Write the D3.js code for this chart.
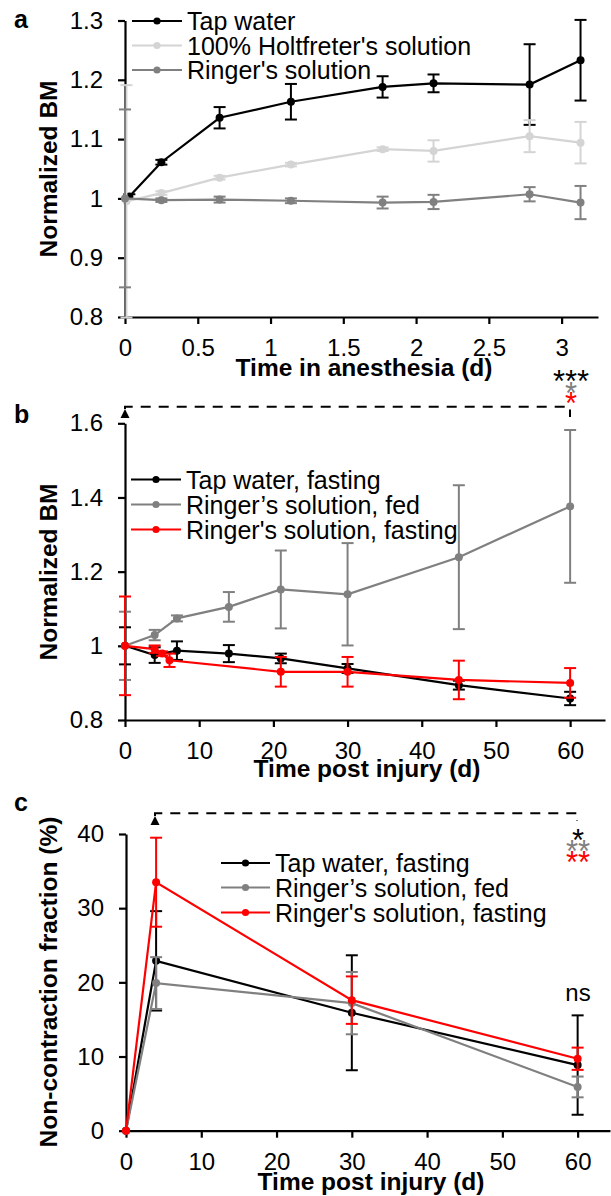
<!DOCTYPE html>
<html><head><meta charset="utf-8">
<script src="https://cdn.jsdelivr.net/npm/d3@7"></script>
<style>body{margin:0;background:#fff} svg{display:block} text{font-family:"Liberation Sans",Arial,Helvetica,sans-serif}</style>
</head><body><svg id="c" width="611" height="1196"></svg>
<script>
// ---------- Panel a data ----------
const aTapTime = [0.03, 0.25, 0.65, 1.14, 1.77, 2.12, 2.78, 3.13];
const aTap     = [1.003, 1.061, 1.136, 1.163, 1.188, 1.194, 1.192, 1.233];
const aTapErr  = [0.004, 0.004, 0.018, 0.030, 0.018, 0.015, 0.068, 0.068];
const aHoltTime = [0.01, 0.25, 0.65, 1.14, 1.77, 2.12, 2.78, 3.13];
const aHolt     = [0.995, 1.009, 1.035, 1.057, 1.083, 1.080, 1.105, 1.094];
const aHoltErr  = [0.196, 0.003, 0.003, 0.003, 0.003, 0.018, 0.027, 0.035];
const aRingTime = [0.0, 0.25, 0.65, 1.14, 1.77, 2.12, 2.78, 3.13];
const aRing     = [1.0, 0.997, 0.998, 0.996, 0.993, 0.994, 1.007, 0.993];
const aRingErr  = [0.15, 0.003, 0.005, 0.004, 0.010, 0.012, 0.012, 0.028];
const aXTicks = [0, 0.5, 1, 1.5, 2, 2.5, 3];
const aXLabels = ["0", "0.5", "1", "1.5", "2", "2.5", "3"];
const aYTicks = [0.8, 0.9, 1.0, 1.1, 1.2, 1.3];
const aYLabels = ["0.8", "0.9", "1", "1.1", "1.2", "1.3"];
const aLegend = ["Tap water", "100% Holtfreter's solution", "Ringer's solution"];

// ---------- Panel b data ----------
const bTapTime = [0, 4, 7, 14, 21, 30, 45, 60];
const bTap     = [1.0, 0.975, 0.987, 0.979, 0.966, 0.939, 0.894, 0.858];
const bTapErr  = [0.05, 0.021, 0.025, 0.023, 0.013, 0.012, 0.012, 0.018];
const bFedTime = [0, 4, 7, 14, 21, 30, 45, 60];
const bFed     = [1.0, 1.029, 1.074, 1.105, 1.152, 1.139, 1.239, 1.376];
const bFedErr  = [0.092, 0.014, 0.008, 0.04, 0.105, 0.138, 0.194, 0.206];
const bFastTime = [0, 4, 5, 6, 21, 30, 45, 60];
const bFast     = [1.0, 0.991, 0.979, 0.961, 0.930, 0.930, 0.908, 0.900];
const bFastErr  = [0.133, 0.01, 0.006, 0.018, 0.04, 0.04, 0.052, 0.04];
const bXTicks = [0, 10, 20, 30, 40, 50, 60];
const bXLabels = ["0", "10", "20", "30", "40", "50", "60"];
const bYTicks = [0.8, 1.0, 1.2, 1.4, 1.6];
const bYLabels = ["0.8", "1", "1.2", "1.4", "1.6"];
const bLegend = ["Tap water, fasting", "Ringer\u2019s solution, fed", "Ringer's solution, fasting"];

// ---------- Panel c data ----------
const cTime = [0, 4, 30, 60];
const cTap     = [0, 22.9, 15.9, 8.85];
const cTapErr  = [0, 6.7, 7.75, 6.7];
const cFed     = [0, 19.9, 17.2, 5.9];
const cFedErr  = [0, 3.5, 4.2, 1.4];
const cFast    = [0, 33.5, 17.6, 9.7];
const cFastErr = [0, 6.0, 3.2, 1.5];
const cXTicks = [0, 10, 20, 30, 40, 50, 60];
const cXLabels = ["0", "10", "20", "30", "40", "50", "60"];
const cYTicks = [0, 10, 20, 30, 40];
const cYLabels = ["0", "10", "20", "30", "40"];
const cLegend = ["Tap water, fasting", "Ringer\u2019s solution, fed", "Ringer's solution, fasting"];

const BLACK = "#000000", LIGHT = "#d4d4d4", GRAY = "#808080", RED = "#ff0000";
const svg = d3.select("#c");

function zip(t, v, e) { return t.map((d, i) => ({ x: d, y: v[i], e: e[i] })); }

function panel(cfg) {
  const g = svg.append("g");
  const x = d3.scaleLinear().domain(cfg.xDomain).range(cfg.xRange);
  const y = d3.scaleLinear().domain(cfg.yDomain).range(cfg.yRange);

  const xa = g.append("g").attr("transform", `translate(0,${cfg.yRange[0]})`)
    .call(d3.axisBottom(x).tickValues(cfg.xTicks).tickFormat((d, i) => cfg.xLabels[i])
      .tickSize(7).tickPadding(15).tickSizeOuter(0));
  const ya = g.append("g").attr("transform", `translate(${cfg.xRange[0]},0)`)
    .call(d3.axisLeft(y).tickValues(cfg.yTicks).tickFormat((d, i) => cfg.yLabels[i])
      .tickSize(7).tickPadding(15).tickSizeOuter(0));
  [xa, ya].forEach(a => {
    a.select(".domain").attr("stroke", "#000").attr("stroke-width", 2.2);
    a.selectAll(".tick line").attr("stroke", "#000").attr("stroke-width", 2.2);
    a.selectAll(".tick text").attr("font-size", 24).attr("fill", "#000")
      .attr("font-family", '"Liberation Sans",Arial,sans-serif');
  });

  g.append("text").attr("x", cfg.xTitlePos[0]).attr("y", cfg.xTitlePos[1])
    .attr("text-anchor", "middle").attr("font-weight", "bold").attr("font-size", 24.5)
    .text(cfg.xTitle);
  g.append("text").attr("transform", `translate(${cfg.yTitlePos[0]},${cfg.yTitlePos[1]}) rotate(-90)`)
    .attr("text-anchor", "middle").attr("font-weight", "bold").attr("font-size", 24.5)
    .text(cfg.yTitle);
  g.append("text").attr("x", 14).attr("y", cfg.letterY).attr("font-weight", "bold")
    .attr("font-size", 25).text(cfg.letter);

  const line = d3.line().x(d => x(d.x)).y(d => y(d.y));
  cfg.series.forEach(s => {
    const sg = g.append("g");
    sg.append("path").datum(s.data).attr("d", line).attr("fill", "none")
      .attr("stroke", s.color).attr("stroke-width", 2.2);
    const eb = sg.selectAll(".eb").data(s.data.filter(d => d.e > 0)).enter().append("g");
    eb.append("line").attr("x1", d => x(d.x)).attr("x2", d => x(d.x))
      .attr("y1", d => y(d.y - d.e)).attr("y2", d => y(d.y + d.e))
      .attr("stroke", s.color).attr("stroke-width", 2);
    [1, -1].forEach(sgn => {
      eb.append("line").attr("x1", d => x(d.x) - 6).attr("x2", d => x(d.x) + 6)
        .attr("y1", d => y(d.y + sgn * d.e)).attr("y2", d => y(d.y + sgn * d.e))
        .attr("stroke", s.color).attr("stroke-width", 2);
    });
    sg.selectAll("circle").data(s.data).enter().append("circle")
      .attr("cx", d => x(d.x)).attr("cy", d => y(d.y)).attr("r", 4).attr("fill", s.color);
  });

  const L = cfg.legend;
  cfg.series.forEach((s, i) => {
    const ly = L.y[i];
    g.append("line").attr("x1", L.x0).attr("x2", L.x1).attr("y1", ly).attr("y2", ly)
      .attr("stroke", s.color).attr("stroke-width", 2.2);
    g.append("circle").attr("cx", (L.x0 + L.x1) / 2).attr("cy", ly).attr("r", 3.6).attr("fill", s.color);
    g.append("text").attr("x", L.tx).attr("y", ly).attr("dy", "0.36em")
      .attr("font-size", 25).attr("fill", "#000").text(s.label);
  });
  return { g, x, y };
}

function bracket(g, x0, yTop, yStart, x1, yEnd) {
  g.append("path").attr("d", `M${x0},${yStart} V${yTop} H${x1} V${yEnd}`)
    .attr("fill", "none").attr("stroke", "#000").attr("stroke-width", 2)
    .attr("stroke-dasharray", "10,8");
  g.append("path").attr("d", `M${x0 - 4.5},${yStart + 9} L${x0 + 4.5},${yStart + 9} L${x0},${yStart} Z`)
    .attr("fill", "#000");
}
// stacked significance stars as one text element with tspans
function stars(g, xc, y0, rows) {
  const t = g.append("text").attr("x", xc).attr("y", y0).attr("text-anchor", "middle")
    .attr("font-size", 31);
  rows.forEach((r, i) => {
    t.append("tspan").attr("x", xc).attr("dy", i === 0 ? 0 : r.dy)
      .attr("fill", r.color).text(r.t);
  });
}

// Panel a
panel({
  letter: "a", letterY: 28,
  xDomain: [0, 3.25], xRange: [125, 598], yDomain: [0.8, 1.3], yRange: [317, 20.5],
  xTicks: aXTicks, xLabels: aXLabels, yTicks: aYTicks, yLabels: aYLabels,
  xTitle: "Time in anesthesia (d)", xTitlePos: [364, 376],
  yTitle: "Normalized BM", yTitlePos: [57, 169],
  series: [
    { label: aLegend[0], color: BLACK, data: zip(aTapTime, aTap, aTapErr) },
    { label: aLegend[1], color: LIGHT, data: zip(aHoltTime, aHolt, aHoltErr) },
    { label: aLegend[2], color: GRAY, data: zip(aRingTime, aRing, aRingErr) }
  ],
  legend: { x0: 132, x1: 182, tx: 187, y: [21, 45.5, 70] }
});

// Panel b
const pb = panel({
  letter: "b", letterY: 423,
  xDomain: [0, 64.7], xRange: [125, 605], yDomain: [0.8, 1.6], yRange: [720, 423.3],
  xTicks: bXTicks, xLabels: bXLabels, yTicks: bYTicks, yLabels: bYLabels,
  xTitle: "Time post injury (d)", xTitlePos: [367, 777],
  yTitle: "Normalized BM", yTitlePos: [57, 572],
  series: [
    { label: bLegend[0], color: BLACK, data: zip(bTapTime, bTap, bTapErr) },
    { label: bLegend[1], color: GRAY, data: zip(bFedTime, bFed, bFedErr) },
    { label: bLegend[2], color: RED, data: zip(bFastTime, bFast, bFastErr) }
  ],
  legend: { x0: 131, x1: 181, tx: 186, y: [479.5, 504.5, 529.5] }
});
bracket(pb.g, 125, 406.7, 409, 570, 417);
stars(pb.g, 571, 392, [{ t: "***", color: BLACK }, { t: "*", dy: 12, color: GRAY }, { t: "*", dy: 10, color: RED }]);

// Panel c
const pc = panel({
  letter: "c", letterY: 811,
  xDomain: [0, 64.3], xRange: [126, 610], yDomain: [0, 40], yRange: [1130.7, 834],
  xTicks: cXTicks, xLabels: cXLabels, yTicks: cYTicks, yLabels: cYLabels,
  xTitle: "Time post injury (d)", xTitlePos: [371, 1190],
  yTitle: "Non-contraction fraction (%)", yTitlePos: [57, 982],
  series: [
    { label: cLegend[0], color: BLACK, data: zip(cTime, cTap, cTapErr) },
    { label: cLegend[1], color: GRAY, data: zip(cTime, cFed, cFedErr) },
    { label: cLegend[2], color: RED, data: zip(cTime, cFast, cFastErr) }
  ],
  legend: { x0: 221, x1: 270, tx: 275, y: [863, 887.5, 912.5] }
});
bracket(pc.g, 155, 813.3, 816, 577, 821);
stars(pc.g, 578, 851, [{ t: "*", color: BLACK }, { t: "**", dy: 11, color: GRAY }, { t: "**", dy: 11, color: RED }]);
pc.g.append("text").attr("x", 578).attr("y", 1001).attr("text-anchor", "middle")
  .attr("font-size", 24).text("ns");
</script></body></html>
